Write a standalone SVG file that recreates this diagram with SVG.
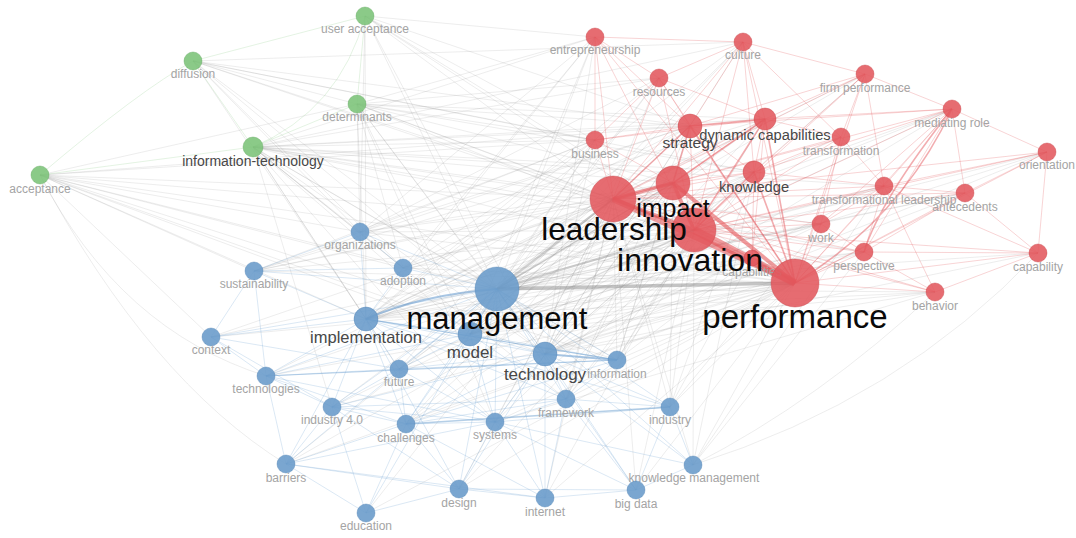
<svg xmlns="http://www.w3.org/2000/svg" width="1076" height="538" viewBox="0 0 1076 538">
<style>
text{font-family:"Liberation Sans",Arial,sans-serif;text-anchor:middle}
.s{font-size:12px;fill:#a4a4a4}
.m{font-size:15px;fill:#474747}
.l{fill:#0a0a0a}
.eg{fill:none;stroke:#8a8a8a;stroke-opacity:.22;stroke-width:.7}
.eb{fill:none;stroke:#6c9fd0;stroke-opacity:.35;stroke-width:.7}
.er{fill:none;stroke:#e24a4f;stroke-opacity:.3;stroke-width:.8}
.egr{fill:none;stroke:#7cc47a;stroke-opacity:.3;stroke-width:.7}
.nr{fill:#e2585d;fill-opacity:.88;stroke:#c94448;stroke-opacity:.5;stroke-width:.8}
.nb{fill:#6b9ccb;fill-opacity:.9;stroke:#4f82b3;stroke-opacity:.5;stroke-width:.8}
.ng{fill:#7ec47b;fill-opacity:.9;stroke:#5fa85c;stroke-opacity:.5;stroke-width:.8}
</style>
<rect width="1076" height="538" fill="#ffffff"/>
<g id="connectors">
<path class="eg" d="M497 289L673 183M497 289L690 126M497 289L754 172M497 289L765 119M497 289L595 140M497 289L659 78M497 289L595 37M497 289L743 42M497 289L884 186M497 289L821 224M497 289L864 252M497 289L935 292M497 289L752 258M497 289L865 74M497 289L952 109M497 289L253 147M497 289L357 104M497 289L365 16M497 289L193 61M497 289L40 175M497 289L1047 152M497 289L965 193M497 289L1038 253M497 289L841 137"/>
<path class="eg" d="M613 199L253 147M613 199L357 104M613 199L366 319M613 199L545 354M613 199L470 334M613 199L360 232M613 199L403 268M613 199L254 271M613 199L211 337M613 199L266 376M613 199L399 369M613 199L332 407M613 199L406 424M613 199L495 422M613 199L566 399M613 199L670 407M613 199L693 465M613 199L636 490M613 199L545 498M613 199L459 489M613 199L365 16M613 199L40 175M613 199L193 61M613 199L617 360M613 199L366 513M613 199L286 464"/>
<path class="eg" d="M694 230L253 147M694 230L366 319M694 230L545 354M694 230L470 334M694 230L360 232M694 230L403 268M694 230L254 271M694 230L266 376M694 230L399 369M694 230L406 424M694 230L495 422M694 230L566 399M694 230L670 407M694 230L693 465M694 230L636 490M694 230L545 498M694 230L286 464M694 230L332 407M694 230L357 104M694 230L365 16M694 230L193 61M694 230L617 360M694 230L211 337M694 230L40 175M694 230L459 489"/>
<path class="eg" d="M795 283L253 147M795 283L366 319M795 283L545 354M795 283L470 334M795 283L360 232M795 283L403 268M795 283L254 271M795 283L211 337M795 283L399 369M795 283L406 424M795 283L495 422M795 283L566 399M795 283L670 407M795 283L693 465M795 283L636 490M795 283L545 498M795 283L459 489M795 283L40 175M795 283L332 407M795 283L266 376M795 283L366 513M795 283L617 360M795 283L286 464M795 283L357 104M795 283L365 16"/>
<path class="eg" d="M673 183L366 319M673 183L545 354M673 183L470 334M673 183L254 271M673 183L360 232M673 183L403 268M673 183L399 369M673 183L495 422M673 183L670 407M673 183L253 147M673 183L357 104M673 183L617 360M673 183L406 424M673 183L566 399"/>
<path class="eg" d="M253 147L690 126M253 147L595 140M253 147L659 78M253 147L595 37M253 147L765 119M253 147L754 172M253 147L743 42M253 147L360 232M253 147L403 268M253 147L366 319M253 147L545 354M253 147L470 334M253 147L495 422M253 147L617 360M253 147L399 369M253 147L332 407M253 147L566 399M253 147L864 252M253 147L821 224M253 147L884 186"/>
<path class="eg" d="M40 175L595 140M40 175L360 232M40 175L366 319M40 175L403 268M40 175L545 354M40 175L254 271M40 175L211 337M40 175L357 104M40 175L690 126M40 175L617 360M40 175L470 334M40 175Q120 330 266 376M40 175Q150 380 286 464"/>
<path class="eg" d="M193 61L357 104M193 61L360 232M193 61L366 319M193 61L690 126M193 61L595 140M193 61L403 268M193 61L545 354M193 61L754 172M193 61L743 42"/>
<path class="eg" d="M357 104L360 232M357 104L403 268M357 104L366 319M357 104L545 354M357 104L690 126M357 104L595 37M357 104L595 140M357 104L659 78M357 104L754 172M357 104L765 119M357 104L470 334M357 104L495 422"/>
<path class="eg" d="M365 16L545 354M365 16L366 319M365 16L595 140M365 16L360 232M365 16L690 126M365 16L595 37"/>
<path class="eg" d="M690 126L366 319M690 126L545 354M690 126L470 334M690 126L403 268M690 126L254 271M690 126L617 360M690 126L566 399M690 126L360 232M754 172L545 354M754 172L693 465M754 172L617 360M754 172L470 334M754 172L366 319M754 172L670 407M754 172L566 399M595 140L366 319M595 140L545 354M595 140L470 334M595 140L403 268M595 140L254 271M595 140L360 232M595 140L399 369M765 119L545 354M765 119L366 319M765 119L470 334M765 119L617 360M765 119L254 271M659 78L545 354M659 78L470 334M659 78L366 319M659 78L360 232M595 37L366 319M595 37L545 354M595 37L360 232M595 37L470 334M595 37L403 268M743 42L366 319M743 42L545 354M743 42L470 334"/>
<path class="eg" d="M884 186L545 354M884 186L366 319M884 186L470 334M884 186L693 465M821 224L545 354M821 224L366 319M821 224L470 334M821 224L670 407M864 252L545 354M864 252L366 319M864 252L470 334M864 252L693 465M935 292L545 354M935 292L366 319M935 292L470 334M935 292Q820 400 693 465M935 292L495 422M752 258L545 354M752 258L366 319M752 258L470 334M752 258L617 360M752 258L670 407M865 74L545 354M865 74L366 319M952 109L545 354M952 109L366 319M952 109L470 334M965 193L545 354M965 193L366 319M1038 253L545 354M1038 253Q900 400 693 465M1047 152L545 354M1047 152L470 334"/>
<path class="eg" d="M497 289L613 199M497 289L694 230" style="stroke-width:2.2;stroke-opacity:.4"/>
<path class="eg" d="M497 289L673 183" style="stroke-width:1.4;stroke-opacity:.35"/>
<path class="eg" d="M497 289L795 283" style="stroke-width:3.5;stroke-opacity:.5"/>
<path class="eb" d="M497 289L470 334M497 289L545 354M497 289L403 268M497 289L360 232M497 289L254 271M497 289L399 369M497 289L406 424M497 289L495 422M497 289L566 399M497 289L617 360M497 289L670 407M497 289L266 376M497 289L211 337M497 289L332 407M497 289L286 464M497 289L459 489M497 289L545 498M497 289L636 490M497 289L693 465M497 289L366 513"/>
<path class="eb" d="M366 319L211 337M366 319L254 271M366 319L266 376M366 319L399 369M366 319L406 424M366 319L332 407M366 319L286 464M366 319L470 334M366 319L545 354M366 319L360 232M366 319L403 268M366 319L495 422M366 319L617 360M366 319L566 399M366 319L670 407M366 319L459 489"/>
<path class="eb" d="M545 354L566 399M545 354L495 422M545 354L670 407M545 354L636 490M545 354L545 498M545 354L470 334M545 354L406 424M545 354L399 369M545 354L332 407M545 354L693 465M545 354L459 489"/>
<path class="eb" d="M406 424L495 422M406 424L332 407M406 424L566 399M406 424L617 360M406 424L459 489M406 424L286 464M406 424L545 498M406 424L366 513M399 369L617 360M399 369L495 422M399 369L406 424M399 369L332 407M211 337L266 376M211 337L254 271M211 337L332 407M211 337L399 369M266 376L332 407M266 376L286 464M266 376L406 424M266 376L399 369M266 376L495 422M266 376L470 334M332 407L286 464M332 407L495 422M332 407L459 489M332 407L366 513M332 407L566 399M286 464L459 489M286 464L366 513M286 464L545 498M286 464L495 422M459 489L545 498M459 489L636 490M459 489L495 422M459 489L366 513M545 498L636 490M545 498L495 422M545 498L566 399M636 490L693 465M636 490L670 407M636 490L495 422M636 490L566 399M693 465L670 407M693 465L495 422M495 422L566 399M495 422L670 407M566 399L670 407M566 399L617 360M403 268L360 232M403 268L254 271M254 271L360 232M254 271L266 376M470 334L399 369M470 334L495 422M470 334L406 424M470 334L566 399M470 334L617 360"/>
<path class="eb" d="M497 289Q420 295 366 319" style="stroke-width:2.2;stroke-opacity:.6"/>
<path class="eb" d="M545 354L617 360" style="stroke-width:2.2;stroke-opacity:.6"/>
<path class="eb" d="M406 424L670 407" style="stroke-width:1.5;stroke-opacity:.5"/>
<path class="eb" d="M266 376L617 360M366 319L617 360" style="stroke-width:1.1;stroke-opacity:.45"/>
<path class="egr" d="M253 147Q340 110 365 16M253 147L40 175M253 147L357 104M253 147L193 61M40 175Q140 90 193 61M357 104L365 16M193 61L365 16"/>
<path class="er" d="M690 126L595 140M690 126L659 78M690 126L595 37M690 126L743 42M690 126L754 172M690 126L694 230M690 126L865 74M690 126L952 109M765 119L754 172M765 119L673 183M765 119L595 140M765 119L659 78M765 119L743 42M765 119L865 74M765 119L841 137M765 119L613 199M765 119L952 109M754 172L613 199M754 172L673 183M754 172L743 42M754 172L865 74M754 172L952 109M754 172L841 137M754 172L884 186M595 140L613 199M595 140L673 183M595 140L595 37M595 140L659 78M659 78L795 283M659 78L613 199M659 78L595 37M659 78L694 230M659 78L743 42M595 37L795 283M595 37L613 199M595 37L694 230M595 37L743 42M743 42L795 283M743 42L613 199M743 42L694 230M743 42L865 74M743 42L841 137"/>
<path class="er" d="M865 74L795 283M865 74L613 199M865 74L694 230M865 74L884 186M865 74L952 109M865 74L841 137M952 109L795 283M952 109L694 230M952 109L613 199M952 109L884 186M952 109L965 193M952 109L1047 152M952 109L821 224M952 109L864 252M1047 152L795 283M1047 152L694 230M1047 152L613 199M1047 152L1038 253M1047 152L965 193M1047 152L884 186M841 137L795 283M841 137L613 199M841 137L694 230M841 137L821 224M841 137L884 186"/>
<path class="er" d="M884 186L795 283M884 186L613 199M884 186L694 230M884 186L821 224M884 186L965 193M884 186L864 252M884 186L935 292M884 186L1038 253M965 193L795 283M965 193L613 199M965 193L694 230M965 193L1038 253M965 193L864 252M1038 253L795 283M1038 253L694 230M1038 253L864 252M1038 253L935 292M821 224L795 283M821 224L613 199M821 224L694 230M821 224L864 252M864 252L795 283M864 252L613 199M864 252L694 230M864 252L935 292M935 292L795 283M935 292L613 199M935 292L694 230M752 258L613 199M752 258L694 230M752 258L765 119M752 258L754 172"/>
<path class="er" d="M690 126L765 119M690 126L613 199M765 119L795 283M754 172L795 283M690 126L795 283M765 119L694 230M754 172L694 230M673 183L690 126M673 183L765 119M752 258L795 283M952 109Q880 200 864 252M952 109Q900 220 795 283" style="stroke-width:1.6;stroke-opacity:.45"/>
<path class="er" d="M613 199L673 183M613 199L694 230M673 183L694 230" style="stroke-width:3.5;stroke-opacity:.55"/>
<path class="er" d="M673 183L795 283" style="stroke-width:4;stroke-opacity:.55"/>
<path class="er" d="M613 199L795 283" style="stroke-width:6;stroke-opacity:.55"/>
<path class="er" d="M694 230L795 283" style="stroke-width:8;stroke-opacity:.55"/>
</g>
<g id="n-user-acceptance"><circle class="ng" cx="365" cy="16" r="9"/><text class="s" x="365" y="33">user acceptance</text></g>
<g id="n-diffusion"><circle class="ng" cx="193" cy="61" r="9"/><text class="s" x="193" y="78">diffusion</text></g>
<g id="n-determinants"><circle class="ng" cx="357" cy="104" r="9"/><text class="s" x="357" y="121">determinants</text></g>
<g id="n-acceptance"><circle class="ng" cx="40" cy="175" r="9"/><text class="s" x="40" y="193">acceptance</text></g>
<g id="n-organizations"><circle class="nb" cx="360" cy="232" r="9"/><text class="s" x="360" y="249">organizations</text></g>
<g id="n-adoption"><circle class="nb" cx="403" cy="268" r="9"/><text class="s" x="403" y="285">adoption</text></g>
<g id="n-sustainability"><circle class="nb" cx="254" cy="271" r="9"/><text class="s" x="254" y="288">sustainability</text></g>
<g id="n-context"><circle class="nb" cx="211" cy="337" r="9"/><text class="s" x="211" y="354">context</text></g>
<g id="n-information"><circle class="nb" cx="617" cy="360" r="9"/><text class="s" x="617" y="378">information</text></g>
<g id="n-technologies"><circle class="nb" cx="266" cy="376" r="9"/><text class="s" x="266" y="393">technologies</text></g>
<g id="n-future"><circle class="nb" cx="399" cy="369" r="9"/><text class="s" x="399" y="386">future</text></g>
<g id="n-industry-4-0"><circle class="nb" cx="332" cy="407" r="9"/><text class="s" x="332" y="424">industry 4.0</text></g>
<g id="n-challenges"><circle class="nb" cx="406" cy="424" r="9"/><text class="s" x="406" y="442">challenges</text></g>
<g id="n-systems"><circle class="nb" cx="495" cy="422" r="9"/><text class="s" x="495" y="439">systems</text></g>
<g id="n-framework"><circle class="nb" cx="566" cy="399" r="9"/><text class="s" x="566" y="417">framework</text></g>
<g id="n-industry"><circle class="nb" cx="670" cy="407" r="9"/><text class="s" x="670" y="424">industry</text></g>
<g id="n-barriers"><circle class="nb" cx="286" cy="464" r="9"/><text class="s" x="286" y="482">barriers</text></g>
<g id="n-knowledge-management"><circle class="nb" cx="693" cy="465" r="9"/><text class="s" x="694" y="482">knowledge management</text></g>
<g id="n-design"><circle class="nb" cx="459" cy="489" r="9"/><text class="s" x="459" y="507">design</text></g>
<g id="n-internet"><circle class="nb" cx="545" cy="498" r="9"/><text class="s" x="545" y="516">internet</text></g>
<g id="n-big-data"><circle class="nb" cx="636" cy="490" r="9"/><text class="s" x="636" y="508">big data</text></g>
<g id="n-education"><circle class="nb" cx="366" cy="513" r="9"/><text class="s" x="366" y="530">education</text></g>
<g id="n-entrepreneurship"><circle class="nr" cx="595" cy="37" r="9"/><text class="s" x="595" y="54">entrepreneurship</text></g>
<g id="n-culture"><circle class="nr" cx="743" cy="42" r="9"/><text class="s" x="743" y="59">culture</text></g>
<g id="n-resources"><circle class="nr" cx="659" cy="78" r="9"/><text class="s" x="659" y="96">resources</text></g>
<g id="n-firm-performance"><circle class="nr" cx="865" cy="74" r="9"/><text class="s" x="865" y="92">firm performance</text></g>
<g id="n-mediating-role"><circle class="nr" cx="952" cy="109" r="9"/><text class="s" x="952" y="127">mediating role</text></g>
<g id="n-business"><circle class="nr" cx="595" cy="140" r="9"/><text class="s" x="595" y="158">business</text></g>
<g id="n-transformation"><circle class="nr" cx="841" cy="137" r="9"/><text class="s" x="841" y="155">transformation</text></g>
<g id="n-orientation"><circle class="nr" cx="1047" cy="152" r="9"/><text class="s" x="1047" y="169">orientation</text></g>
<g id="n-transformational-leadership"><circle class="nr" cx="884" cy="186" r="9"/><text class="s" x="884" y="204">transformational leadership</text></g>
<g id="n-antecedents"><circle class="nr" cx="965" cy="193" r="9"/><text class="s" x="965" y="211">antecedents</text></g>
<g id="n-work"><circle class="nr" cx="821" cy="224" r="9"/><text class="s" x="821" y="242">work</text></g>
<g id="n-perspective"><circle class="nr" cx="864" cy="252" r="9"/><text class="s" x="864" y="270">perspective</text></g>
<g id="n-capability"><circle class="nr" cx="1038" cy="253" r="9"/><text class="s" x="1038" y="271">capability</text></g>
<g id="n-behavior"><circle class="nr" cx="935" cy="292" r="9"/><text class="s" x="935" y="310">behavior</text></g>
<g id="n-capabilities"><circle class="nr" cx="752" cy="258" r="8"/><text class="s" x="752" y="276">capabilities</text></g>
<g id="n-information-technology"><circle class="ng" cx="253" cy="147" r="10"/><text class="m" x="253" y="166" style="font-size:14px">information-technology</text></g>
<g id="n-strategy"><circle class="nr" cx="690" cy="126" r="12"/><text class="m" x="690" y="148" style="font-size:15.5px">strategy</text></g>
<g id="n-dynamic-capabilities"><circle class="nr" cx="765" cy="119" r="11"/><text class="m" x="765" y="140" style="font-size:14.7px">dynamic capabilities</text></g>
<g id="n-knowledge"><circle class="nr" cx="754" cy="172" r="11"/><text class="m" x="754" y="192" style="font-size:14.7px">knowledge</text></g>
<g id="n-implementation"><circle class="nb" cx="366" cy="319" r="12"/><text class="m" x="366" y="343" style="font-size:16.5px">implementation</text></g>
<g id="n-model"><circle class="nb" cx="470" cy="334" r="12"/><text class="m" x="470" y="358" style="font-size:17px">model</text></g>
<g id="n-technology"><circle class="nb" cx="545" cy="354" r="12"/><text class="m" x="545" y="380" style="font-size:17px">technology</text></g>
<g id="n-performance"><circle class="nr" cx="795" cy="283" r="24"/><text class="l" x="795" y="328" style="font-size:33px">performance</text></g>
<g id="n-innovation"><circle class="nr" cx="694" cy="230" r="22"/><text class="l" x="690" y="271" style="font-size:32px">innovation</text></g>
<g id="n-impact"><circle class="nr" cx="673" cy="183" r="17"/><text class="l" x="673" y="217" style="font-size:25px">impact</text></g>
<g id="n-leadership"><circle class="nr" cx="613" cy="199" r="23"/><text class="l" x="614" y="240" style="font-size:31.5px">leadership</text></g>
<g id="n-management"><circle class="nb" cx="497" cy="289" r="22"/><text class="l" x="497" y="329" style="font-size:31px">management</text></g>
</svg>
